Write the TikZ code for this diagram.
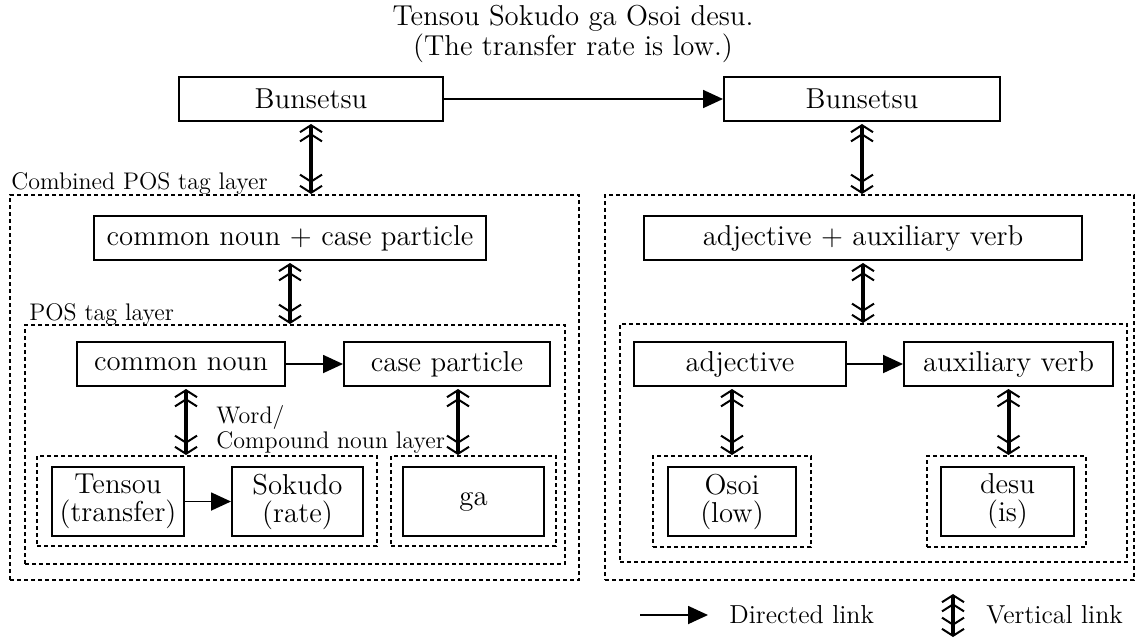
\documentclass[tikz,border=0pt]{standalone}
\usetikzlibrary{arrows.meta,positioning}

\tikzset{
  wbox/.style={draw, line width=1pt, font=\Large, inner sep=2pt, align=center},
  twoline/.style={font=\fontsize{14.4}{14}\selectfont},
  layer/.style={draw, line width=1pt, dash pattern=on 2pt off 1.5pt, inner sep=0pt},
  layerlabel/.style={font=\large, inner sep=0pt},
  dlink/.style={line width=0.9pt, -{Triangle[length=10pt,width=9pt]}},
  chev/.tip={Straight Barb[length=3.5pt,width=11pt,line width=1pt]},
  vlink/.style={line width=2pt, {chev[sep=1pt]chev}-{chev[sep=1pt]chev}},
}

\begin{document}
\begin{tikzpicture}[x=0.5pt,y=-0.5pt]
\useasboundingbox (0,0) rectangle (1135,639);

% Title
\node[font=\fontsize{14.4}{12.5}\selectfont, align=center, inner sep=0pt] (title) at (573,34)
  {Tensou Sokudo ga Osoi desu.\\(The transfer rate is low.)};

% Bunsetsu layer
\node[wbox, minimum width=132pt, minimum height=22pt] (bunL) at (311,99) {Bunsetsu};
\node[wbox, minimum width=138pt, minimum height=22pt] (bunR) at (862,99) {Bunsetsu};
\draw[dlink] (bunL) -- (bunR);

% Combined POS tag layer
\node[layer, minimum width=284.5pt, minimum height=192.5pt] (combL) at (294.5,387.5) {};
\node[layer, minimum width=264.5pt, minimum height=192.5pt] (combR) at (869.5,387.5) {};
\node[layerlabel, anchor=base west] (combLab) at ([xshift=1pt,yshift=2.5pt]combL.north west) {Combined POS tag layer};
\node[wbox, minimum width=196pt, minimum height=22pt] (cnc) at (290,238) {common noun + case particle};
\node[wbox, minimum width=219pt, minimum height=22pt] (aaux) at (863,238) {adjective + auxiliary verb};
\draw[vlink] (bunL.south) -- (bunL.south |- combL.north);
\draw[vlink] (bunR.south) -- (bunR.south |- combR.north);

% POS tag layer
\node[layer, minimum width=270pt, minimum height=119.5pt] (posL) at (295,444.5) {};
\node[layer, minimum width=253.5pt, minimum height=119pt] (posR) at (873.5,443) {};
\node[layerlabel, anchor=base west] (posLab) at ([xshift=2.5pt,yshift=2pt]posL.north west) {POS tag layer};
\draw[vlink] (cnc.south) -- (cnc.south |- posL.north);
\draw[vlink] (aaux.south) -- (aaux.south |- posR.north);

\node[wbox, minimum width=104pt, minimum height=22pt] (cn) at (181,364) {common noun};
\node[wbox, minimum width=103pt, minimum height=22pt] (cp) at (447,364) {case particle};
\node[wbox, minimum width=106pt, minimum height=22pt] (adj) at (740,364) {adjective};
\node[wbox, minimum width=104.5pt, minimum height=22pt] (aux) at (1008.5,364) {auxiliary verb};
\draw[dlink] (cn) -- (cp);
\draw[dlink] (adj) -- (aux);

% Word / compound noun layer
\node[layer, minimum width=170pt, minimum height=45pt] (wrdL) at (207,501) {};
\node[layer, minimum width=82.5pt, minimum height=45pt] (wrdGa) at (473.5,501) {};
\node[layer, minimum width=79pt, minimum height=45.5pt] (wrdOsoi) at (732,501.5) {};
\node[layer, minimum width=79.5pt, minimum height=45.5pt] (wrdDesu) at (1006.5,501.5) {};
\node[layerlabel, font=\fontsize{12}{10}\selectfont, align=left, anchor=south west] (wrdLab) at (216,454)
  {Word/\\Compound noun layer};
\draw[vlink] ([xshift=2.5pt]cn.south) -- ([xshift=2.5pt]cn.south |- wrdL.north);
\draw[vlink] ([xshift=5.5pt]cp.south) -- ([xshift=5.5pt]cp.south |- wrdGa.north);
\draw[vlink] (wrdOsoi.north |- adj.south) -- (wrdOsoi.north);
\draw[vlink] (aux.south) -- (aux.south |- wrdDesu.north);

\node[wbox, twoline, minimum width=66pt, minimum height=34.5pt] (tensou) at (118,501.5) {Tensou\\(transfer)};
\node[wbox, twoline, minimum width=65.5pt, minimum height=34.5pt] (sokudo) at (297.5,501.5) {Sokudo\\(rate)};
\node[wbox, minimum width=70.5pt, minimum height=34.5pt] (ga) at (473.5,501.5) {ga};
\node[wbox, twoline, minimum width=64pt, minimum height=34.5pt] (osoi) at (732,501.5) {Osoi\\(low)};
\node[wbox, twoline, minimum width=66.5pt, minimum height=34.5pt] (desu) at (1007.5,501.5) {desu\\(is)};
\draw[dlink] (tensou) -- (sokudo);

% Legend
\coordinate (dlA) at (640,615);
\coordinate (dlB) at (708,615);
\draw[dlink] (dlA) -- (dlB);
\node[font=\fontsize{13}{15}\selectfont, anchor=west, inner sep=0pt] (dlText) at (729,615) {Directed link};
\coordinate (vlA) at (953,592);
\coordinate (vlB) at (953,637);
\draw[vlink] (vlA) -- (vlB);
\node[font=\fontsize{13}{15}\selectfont, anchor=west, inner sep=0pt] (vlText) at (986,615) {Vertical link};
\end{tikzpicture}
\end{document}
